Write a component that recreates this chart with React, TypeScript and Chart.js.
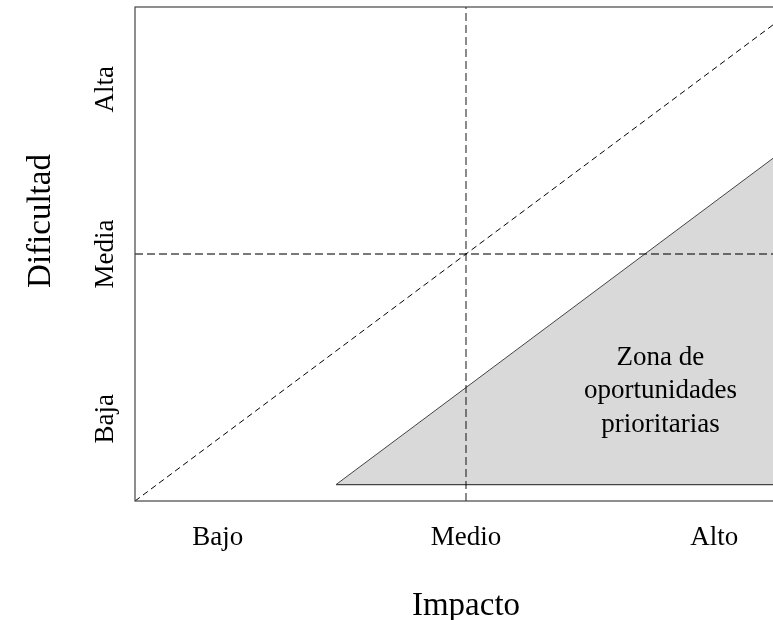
import React, { useEffect, useRef } from 'react';
import { Chart, registerables } from 'chart.js';

Chart.register(...registerables);

// ---- data ----
const xRange = [0, 8];
const yRange = [0, 6];
const xTickValues = [1, 4, 7];
const xTickLabels = ['Bajo', 'Medio', 'Alto'];
const yTickValues = [1, 3, 5];
const yTickLabels = ['Baja', 'Media', 'Alta'];
const xTitle = 'Impacto';
const yTitle = 'Dificultad';
const midX = 4;
const midY = 3;
const diagonalX = [0, 8];
const diagonalY = [0, 6];
const zoneX = [2.43, 8];
const zoneY = [0.2, 4.38];
const zoneBase = 0.2;
const zoneLabel = ['Zona de', 'oportunidades', 'prioritarias'];
const zoneLabelAt = { x: 6.35, y: 1.25 };

const FONT = "'Liberation Serif', 'Times New Roman', serif";
const CANVAS_W = 820;
const CANVAS_H = 620;

const annotationPlugin = {
  id: 'annotationText',
  afterDraw(chart: any) {
    const { ctx, chartArea, scales } = chart;
    const xs = scales.x;
    const ys = scales.y;
    ctx.save();
    // frame
    ctx.strokeStyle = '#444';
    ctx.lineWidth = 1.2;
    ctx.strokeRect(chartArea.left, chartArea.top, chartArea.right - chartArea.left, chartArea.bottom - chartArea.top);

    ctx.fillStyle = '#000';
    // y tick labels (rotated)
    ctx.font = `27px ${FONT}`;
    ctx.textAlign = 'center';
    ctx.textBaseline = 'alphabetic';
    yTickValues.forEach((v, i) => {
      const py = ys.getPixelForValue(v);
      ctx.save();
      ctx.translate(113, py);
      ctx.rotate(-Math.PI / 2);
      ctx.fillText(yTickLabels[i], 0, 0);
      ctx.restore();
    });

    // y title
    ctx.font = `33px ${FONT}`;
    ctx.save();
    ctx.translate(50, 221);
    ctx.rotate(-Math.PI / 2);
    ctx.fillText(yTitle, 0, 0);
    ctx.restore();

    // x title
    ctx.fillText(xTitle, (chartArea.left + chartArea.right) / 2, 615);

    // zone label
    ctx.font = `27px ${FONT}`;
    const cx = xs.getPixelForValue(zoneLabelAt.x);
    const cy = ys.getPixelForValue(zoneLabelAt.y);
    zoneLabel.forEach((t, i) => {
      ctx.fillText(t, cx, cy + (i - 1) * 33.5);
    });
    ctx.restore();
  },
};

export default function App() {
  const ref = useRef<HTMLCanvasElement | null>(null);

  useEffect(() => {
    if (!ref.current) return;
    const chart = new Chart(ref.current, {
      type: 'scatter',
      data: {
        datasets: [
          {
            data: [{ x: midX, y: yRange[0] }, { x: midX, y: yRange[1] }],
            showLine: true,
            borderColor: 'rgba(0,0,0,0.7)',
            borderWidth: 1.3,
            borderDash: [8, 4],
            pointRadius: 0,
            fill: false,
          },
          {
            data: [{ x: xRange[0], y: midY }, { x: xRange[1], y: midY }],
            showLine: true,
            borderColor: 'rgba(0,0,0,0.7)',
            borderWidth: 1.3,
            borderDash: [8, 4],
            pointRadius: 0,
            fill: false,
          },
          {
            data: diagonalX.map((x, i) => ({ x, y: diagonalY[i] })),
            showLine: true,
            borderColor: '#000',
            borderWidth: 1,
            borderDash: [6, 4],
            pointRadius: 0,
            fill: false,
          },
          {
            data: [{ x: zoneX[0], y: zoneBase }, { x: zoneX[1], y: zoneBase }],
            showLine: true,
            borderColor: '#444',
            borderWidth: 1.3,
            pointRadius: 0,
            fill: false,
          },
          {
            data: zoneX.map((x, i) => ({ x, y: zoneY[i] })),
            showLine: true,
            borderColor: '#444',
            borderWidth: 1,
            backgroundColor: '#d9d9d9',
            pointRadius: 0,
            fill: { value: zoneBase },
          },
        ],
      },
      options: {
        animation: false,
        responsive: false,
        devicePixelRatio: 1,
        layout: { padding: { top: 7, right: CANVAS_W - 797, left: 0, bottom: 0 } },
        plugins: {
          legend: { display: false },
          tooltip: { enabled: false },
        },
        scales: {
          x: {
            type: 'linear',
            min: xRange[0],
            max: xRange[1],
            afterBuildTicks: (s: any) => {
              s.ticks = xTickValues.map((v) => ({ value: v }));
            },
            afterFit: (s: any) => {
              s.height = CANVAS_H - 501;
            },
            ticks: {
              autoSkip: false,
              maxRotation: 0,
              minRotation: 0,
              padding: 21,
              color: '#000',
              font: { family: FONT, size: 27 },
              callback: (v: any) => {
                const i = xTickValues.indexOf(Number(v));
                return i >= 0 ? xTickLabels[i] : '';
              },
            },
            grid: { display: false, drawTicks: false },
            border: { display: false },
          },
          y: {
            type: 'linear',
            min: yRange[0],
            max: yRange[1],
            afterFit: (s: any) => {
              s.width = 135;
            },
            ticks: { display: false },
            grid: { display: false, drawTicks: false },
            border: { display: false },
          },
        },
      },
      plugins: [annotationPlugin],
    } as any);
    return () => chart.destroy();
  }, []);

  return (
    <div
      style={{
        position: 'fixed',
        left: 0,
        top: 0,
        width: 773,
        height: 620,
        overflow: 'hidden',
        background: '#fff',
      }}
    >
      <canvas ref={ref} width={CANVAS_W} height={CANVAS_H} style={{ display: 'block' }} />
    </div>
  );
}
